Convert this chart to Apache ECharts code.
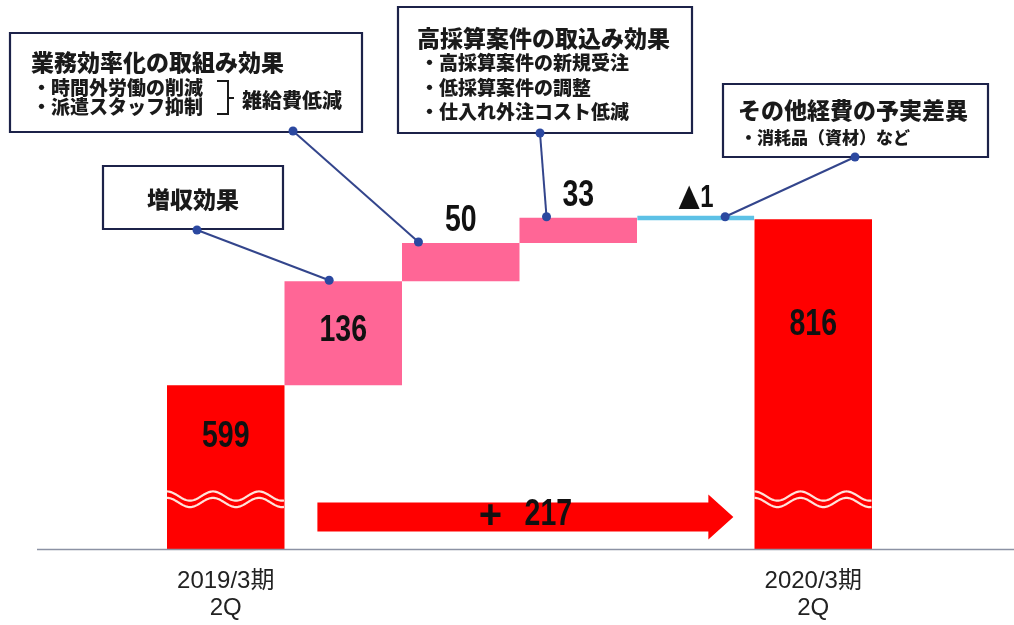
<!DOCTYPE html>
<html lang="ja">
<head>
<meta charset="utf-8">
<title>営業利益 増減要因</title>
<script src="https://cdn.jsdelivr.net/npm/echarts@6/dist/echarts.min.js"></script>
<style>
  html, body { margin: 0; padding: 0; background: #ffffff; }
  #chart { width: 1014px; height: 625px; }
</style>
</head>
<body>
<div id="chart"></div>
<script>
// ---- data -------------------------------------------------------------
const categories = ['2019/3期\n2Q', '増収効果', '業務効率化の取組み効果', '高採算案件の取込み効果', 'その他経費の予実差異', '2020/3期\n2Q'];
// first and last entries are period totals, the rest are step changes
const stepValues = [599, 136, 50, 33, -1, 816];
const isTotal = [true, false, false, false, false, true];

// callout texts
const calloutTitles = ['業務効率化の取組み効果', '増収効果', '高採算案件の取込み効果', 'その他経費の予実差異'];
const effBullets = ['・時間外労働の削減', '・派遣スタッフ抑制'];
const effSummary = '雑給費低減';
const highBullets = ['・高採算案件の新規受注', '・低採算案件の調整', '・仕入れ外注コスト低減'];
const otherBullets = ['・消耗品（資材）など'];

// ---- styling ----------------------------------------------------------
const C_TOTAL = '#FF0000';
const C_UP = '#FF6696';
const C_DOWN = '#5DC1E6';
const C_NAVY = '#1C2249';
const C_LEADER = '#33458C';
const C_DOT = '#2B48A0';
const C_TEXT = '#1A1A1A';
const SANS = '"Liberation Sans", Arial, "Noto Sans CJK JP", sans-serif';
const CJK = '"Noto Sans CJK JP", "Noto Sans", sans-serif';
const Y_MIN = 385;
const Y_MAX = 900;
const NUM_SCALE_X = 0.77;   // condensed look for the numbers

// ---- waterfall construction --------------------------------------------
const baseVals = [];
const barVals = [];
let running = 0;
stepValues.forEach((v, i) => {
  if (isTotal[i]) {
    baseVals.push(0);
    barVals.push(v);
    running = v;
  } else if (v >= 0) {
    baseVals.push(running);
    barVals.push(v);
    running += v;
  } else {
    running += v;
    baseVals.push(running);
    barVals.push(-v);
  }
});
const topVals = baseVals.map((b, i) => b + barVals[i]);
const totalChange = stepValues[stepValues.length - 1] - stepValues[0];

// decreases are written with a leading triangle
const fmtValue = (v) => (v < 0 ? '{t|▲}{n|' + Math.abs(v) + '}' : '{n|' + v + '}');

// label placement: inside → relative to bar middle, top → relative to bar top
const labelRule = [
  { pos: 'inside', dy: -30, size: 37 },
  { pos: 'inside', dy: -2, size: 37 },
  { pos: 'top', dy: -22, size: 37 },
  { pos: 'top', dy: -22, size: 37 },
  { pos: 'top', dy: -19, size: 31 },
  { pos: 'inside', dy: -59, size: 37 }
];

const barData = barVals.map((v, i) => {
  const color = isTotal[i] ? C_TOTAL : (stepValues[i] >= 0 ? C_UP : C_DOWN);
  const item = { value: v, itemStyle: { color: color } };
  if (!isTotal[i] && stepValues[i] < 0) {
    item.itemStyle.borderColor = color;
    item.itemStyle.borderWidth = 4.5;
  }
  return item;
});

// value labels, positioned from each bar's base and top
const labelData = stepValues.map((v, i) => [i, topVals[i], baseVals[i]]);

// break marks drawn across the two total bars
const breakValue = 450;
const breakMarks = categories.map((c, i) => isTotal[i] ? [i, breakValue] : null).filter(Boolean);

const chart = echarts.init(document.getElementById('chart'), null, { renderer: 'canvas' });

chart.setOption({
  animation: false,
  backgroundColor: '#ffffff',
  grid: { left: 167, right: 142, top: 155, bottom: 76, outerBoundsMode: 'none' },
  xAxis: {
    type: 'category',
    data: categories,
    axisLine: { show: false },
    axisTick: { show: false },
    axisLabel: {
      interval: 0,
      margin: 19,
      fontFamily: SANS,
      fontSize: 24,
      lineHeight: 27,
      color: '#222222',
      formatter: (val, idx) => (isTotal[idx] ? val : '')
    }
  },
  yAxis: {
    type: 'value',
    min: Y_MIN,
    max: Y_MAX,
    show: false,
    splitLine: { show: false }
  },
  series: [
    {
      type: 'bar',
      stack: 'wf',
      data: baseVals,
      barCategoryGap: '0%',
      itemStyle: { color: 'transparent' },
      silent: true,
      clip: true
    },
    {
      type: 'bar',
      stack: 'wf',
      data: barData,
      barCategoryGap: '0%',
      clip: true
    },
    {
      type: 'custom',
      data: breakMarks,
      z: 5,
      silent: true,
      renderItem: (params, api) => {
        const c = api.coord([api.value(0), api.value(1)]);
        const w = api.size([1, 0])[0];
        const x0 = c[0] - w / 2;
        const period = 46, amp = 4.6, gap = 3.2;
        const mk = (off) => {
          const pts = [];
          for (let dx = 0; dx <= w; dx += 1) {
            pts.push([x0 + dx, c[1] + off - amp * Math.cos(2 * Math.PI * dx / period)]);
          }
          return pts;
        };
        const st = { stroke: '#FFE3DA', lineWidth: 2.2, fill: null };
        return {
          type: 'group',
          children: [
            { type: 'polyline', shape: { points: mk(-gap) }, style: st },
            { type: 'polyline', shape: { points: mk(gap) }, style: st }
          ]
        };
      }
    },
    {
      type: 'custom',
      data: labelData,
      z: 6,
      silent: true,
      renderItem: (params, api) => {
        const i = api.value(0);
        const top = api.coord([i, api.value(1)]);
        const bot = api.coord([i, Math.max(api.value(2), Y_MIN)]);
        const r = labelRule[i];
        const y = r.pos === 'inside' ? (top[1] + bot[1]) / 2 + r.dy : top[1] + r.dy;
        return {
          type: 'text',
          x: top[0], y: y,
          scaleX: NUM_SCALE_X,
          style: {
            text: fmtValue(stepValues[i]),
            fill: '#111111',
            align: 'center', verticalAlign: 'middle',
            rich: {
              n: { font: 'bold ' + r.size + 'px ' + SANS, fill: '#111111' },
              t: { font: 'bold ' + Math.round(r.size * 0.95) + 'px ' + CJK, fill: '#111111' }
            }
          }
        };
      }
    }
  ]
});

// ---- annotations: baseline, change arrow, callout boxes ---------------
function buildGraphics() {
  const px = (i, v) => chart.convertToPixel({ gridIndex: 0 }, [i, v]);
  const band = px(1, 500)[0] - px(0, 500)[0];
  const baseY = px(0, Y_MIN)[1];
  const els = [];

  // horizontal base line
  els.push({
    type: 'line', z: 10,
    shape: { x1: 37, y1: baseY + 0.5, x2: 1014, y2: baseY + 0.5 },
    style: { stroke: '#8C92A4', lineWidth: 1.6 }
  });

  // change arrow between the two totals
  const ax0 = px(1, 500)[0] - band * 0.22;
  const axTip = px(4, 500)[0] + band * 0.32;
  const axHead = axTip - 25;
  const ay = 517;
  const acx = (ax0 + axTip) / 2;
  els.push({
    type: 'polygon', z: 10,
    shape: {
      points: [
        [ax0, ay - 14.5], [axHead, ay - 14.5], [axHead, ay - 22.5], [axTip, ay],
        [axHead, ay + 22.5], [axHead, ay + 14.5], [ax0, ay + 14.5]
      ]
    },
    style: { fill: '#FF0000' }
  });
  els.push({
    type: 'text', z: 11, x: acx - 35, y: 517,
    style: { text: '+', font: 'bold 40px ' + SANS, fill: '#111111', align: 'center', verticalAlign: 'middle' }
  });
  els.push({
    type: 'text', z: 11, x: acx + 23, y: 515, scaleX: NUM_SCALE_X,
    style: { text: String(totalChange), font: 'bold 37px ' + SANS, fill: '#111111', align: 'center', verticalAlign: 'middle' }
  });

  const box = (x, y, w, h) => ({
    type: 'rect', z: 12,
    shape: { x: x, y: y, width: w, height: h },
    style: { fill: '#ffffff', stroke: C_NAVY, lineWidth: 2.2 }
  });
  const txt = (t, x, y, size, align) => ({
    type: 'text', z: 13, x: x, y: y,
    style: {
      text: t, font: '900 ' + size + 'px ' + CJK, fill: C_TEXT,
      align: align || 'left', verticalAlign: 'middle'
    }
  });

  // box 1
  els.push(box(10, 33, 352, 99));
  els.push(txt(calloutTitles[0], 31, 62, 23));
  els.push(txt(effBullets[0], 32, 88, 19));
  els.push(txt(effBullets[1], 32, 107, 19));
  els.push({
    type: 'polyline', z: 13,
    shape: { points: [[217, 81], [228, 81], [228, 114], [217, 114]] },
    style: { stroke: C_TEXT, lineWidth: 2, fill: null }
  });
  els.push({
    type: 'line', z: 13,
    shape: { x1: 228, y1: 98, x2: 234, y2: 98 },
    style: { stroke: C_TEXT, lineWidth: 2 }
  });
  els.push(txt(effSummary, 242, 100, 20));

  // box 2
  els.push(box(103, 166, 180, 63));
  els.push(txt(calloutTitles[1], 193, 199, 23, 'center'));

  // box 3
  els.push(box(398, 7, 294, 126));
  els.push(txt(calloutTitles[2], 417, 38, 23));
  highBullets.forEach((b, k) => els.push(txt(b, 420, 63 + k * 24.5, 19)));

  // box 4
  els.push(box(723, 84, 265, 73));
  els.push(txt(calloutTitles[3], 738, 110, 23));
  els.push(txt(otherBullets[0], 740, 138, 17));

  // leader lines from boxes to bars
  const leaders = [
    { from: [293, 131], bar: 2, dx: -0.36 },
    { from: [197, 230], bar: 1, dx: -0.12 },
    { from: [540, 133], bar: 3, dx: -0.27 },
    { from: [855, 157], bar: 4, dx: 0.25 }
  ];
  leaders.forEach((L) => {
    const p = px(L.bar, topVals[L.bar]);
    const to = [p[0] + L.dx * band, p[1] - 1];
    els.push({
      type: 'line', z: 14,
      shape: { x1: L.from[0], y1: L.from[1], x2: to[0], y2: to[1] },
      style: { stroke: C_LEADER, lineWidth: 2 }
    });
    [L.from, to].forEach((q) => els.push({
      type: 'circle', z: 15,
      shape: { cx: q[0], cy: q[1], r: 4.5 },
      style: { fill: C_DOT }
    }));
  });

  chart.setOption({ graphic: { elements: els } });
}
buildGraphics();
</script>
</body>
</html>
